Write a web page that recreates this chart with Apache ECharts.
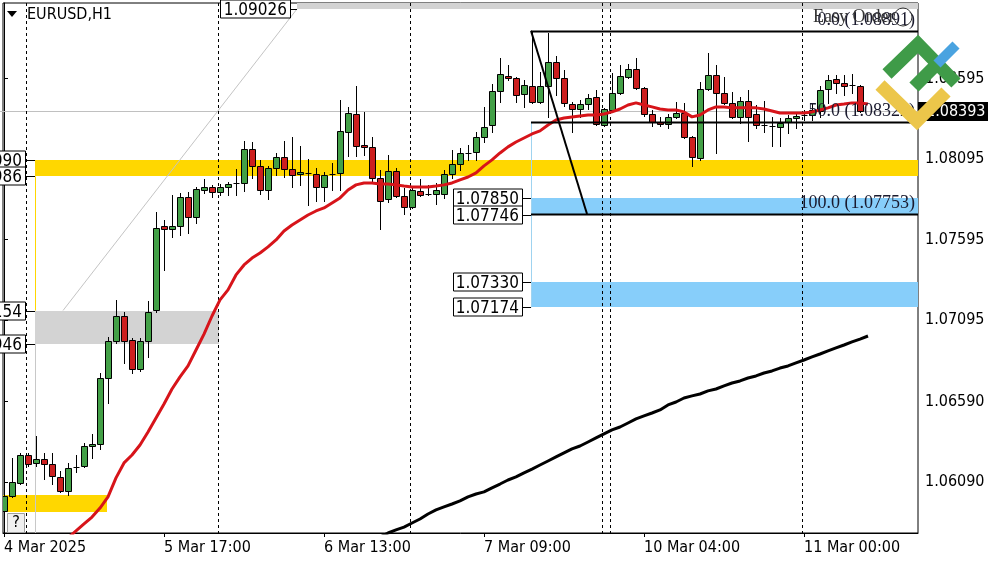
<!DOCTYPE html>
<html><head><meta charset="utf-8">
<script src="https://cdn.jsdelivr.net/npm/echarts@6.0.0/dist/echarts.min.js"></script>
<style>html,body{margin:0;padding:0;background:#fff}#c{width:1000px;height:562px}</style>
</head><body><div id="c"></div>
<script>
// ---------- data ----------
const xLabelBars = [0, 20, 40, 60, 80, 100];
const xLabelTexts = ['4 Mar 2025', '5 Mar 17:00', '6 Mar 13:00', '7 Mar 09:00', '10 Mar 04:00', '11 Mar 00:00'];
const yTickValues = [1.06090, 1.06590, 1.07095, 1.07595, 1.08095, 1.08595];

const opens = [1.05910,1.06003,1.06084,1.06257,1.06208,1.06233,1.06202,1.06121,1.06034,1.06180,
1.06189,1.06313,1.06326,1.06735,1.06965,1.07120,1.06971,1.06791,1.06965,1.07158,
1.07679,1.07661,1.07679,1.07859,1.07735,1.07902,1.07921,1.07890,1.07921,1.07946,
1.07946,1.08157,1.08052,1.07902,1.08039,1.08107,1.08033,1.08002,1.08008,1.08002,
1.07921,1.08002,1.08008,1.08263,1.08374,1.08182,1.08170,1.07977,1.07847,1.08021,
1.07865,1.07797,1.07896,1.07878,1.07878,1.07878,1.08002,1.08064,1.08132,1.08138,
1.08232,1.08306,1.08517,1.08610,1.08598,1.08498,1.08548,1.08449,1.08548,1.08697,
1.08598,1.08436,1.08405,1.08436,1.08480,1.08306,1.08399,1.08505,1.08604,1.08654,
1.08536,1.08374,1.08325,1.08312,1.08356,1.08380,1.08232,1.08101,1.08530,1.08616,
1.08505,1.08443,1.08356,1.08455,1.08374,1.08306,1.08300,1.08294,1.08325,1.08349,
1.08362,1.08368,1.08393,1.08530,1.08592,1.08567,1.08554,1.08548];
const closes = [1.06003,1.06090,1.06257,1.06202,1.06233,1.06202,1.06127,1.06034,1.06177,1.06183,
1.06313,1.06326,1.06735,1.06965,1.07120,1.06965,1.06791,1.06965,1.07145,1.07667,
1.07661,1.07679,1.07859,1.07735,1.07909,1.07921,1.07890,1.07921,1.07940,1.07948,
1.08157,1.08052,1.07902,1.08039,1.08107,1.08033,1.07996,1.08014,1.08008,1.07921,
1.07996,1.08002,1.08269,1.08380,1.08176,1.08170,1.07977,1.07834,1.08021,1.07865,
1.07797,1.07902,1.07871,1.07878,1.07902,1.08002,1.08064,1.08132,1.08132,1.08232,
1.08294,1.08517,1.08623,1.08598,1.08492,1.08554,1.08449,1.08548,1.08697,1.08598,
1.08443,1.08405,1.08436,1.08474,1.08312,1.08405,1.08505,1.08610,1.08654,1.08536,
1.08374,1.08325,1.08312,1.08356,1.08380,1.08232,1.08107,1.08530,1.08616,1.08505,
1.08443,1.08356,1.08455,1.08356,1.08306,1.08306,1.08294,1.08318,1.08349,1.08362,
1.08368,1.08399,1.08523,1.08586,1.08567,1.08548,1.08552,1.08393];
const highs = [1.06015,1.06239,1.06270,1.06270,1.06375,1.06270,1.06270,1.06158,1.06208,1.06257,
1.06332,1.06388,1.06766,1.06990,1.07220,1.07145,1.06984,1.06984,1.07213,1.07766,
1.07716,1.07871,1.07884,1.07890,1.07921,1.07971,1.07934,1.07940,1.07952,1.08033,
1.08207,1.08200,1.08089,1.08052,1.08132,1.08207,1.08232,1.08176,1.08095,1.08039,
1.08014,1.08070,1.08461,1.08418,1.08548,1.08387,1.08232,1.08027,1.08120,1.08039,
1.07915,1.07915,1.07971,1.07934,1.07946,1.08027,1.08151,1.08163,1.08182,1.08263,
1.08418,1.08561,1.08722,1.08679,1.08604,1.08586,1.08891,1.08635,1.08877,1.08734,
1.08648,1.08449,1.08461,1.08498,1.08523,1.08412,1.08629,1.08679,1.08685,1.08722,
1.08542,1.08399,1.08356,1.08374,1.08449,1.08443,1.08238,1.08573,1.08753,1.08679,
1.08604,1.08511,1.08480,1.08523,1.08430,1.08455,1.08356,1.08349,1.08368,1.08387,
1.08399,1.08443,1.08548,1.08616,1.08616,1.08616,1.08623,1.08554];
const lows = [1.05897,1.05997,1.06077,1.06189,1.06189,1.06108,1.06077,1.06028,1.06009,1.06152,
1.06183,1.06239,1.06295,1.06580,1.06953,1.06829,1.06766,1.06779,1.06866,1.07145,
1.07406,1.07611,1.07623,1.07636,1.07698,1.07884,1.07859,1.07871,1.07871,1.07871,
1.07896,1.07977,1.07878,1.07847,1.07996,1.07983,1.07921,1.07934,1.07809,1.07834,
1.07834,1.07902,1.07902,1.08114,1.08114,1.08120,1.07952,1.07661,1.07828,1.07859,
1.07754,1.07791,1.07865,1.07871,1.07816,1.07853,1.07977,1.08027,1.08089,1.08089,
1.08200,1.08263,1.08449,1.08586,1.08449,1.08418,1.08443,1.08443,1.08356,1.08492,
1.08424,1.08263,1.08356,1.08405,1.08306,1.08300,1.08393,1.08498,1.08598,1.08530,
1.08362,1.08300,1.08300,1.08287,1.08349,1.08225,1.08052,1.08089,1.08523,1.08132,
1.08436,1.08349,1.08318,1.08207,1.08287,1.08263,1.08176,1.08176,1.08256,1.08287,
1.08337,1.08337,1.08356,1.08443,1.08505,1.08492,1.08505,1.08387];

// moving averages (first value belongs to bar maFastStart / maSlowStart)
const maFastStart = 8;
const maFast = [1.05742,1.05786,1.05829,1.05872,1.05928,1.05997,1.06115,1.06208,1.06257,1.06319,
1.06400,1.06487,1.06574,1.06667,1.06742,1.06810,1.06909,1.07008,1.07120,1.07220,
1.07282,1.07375,1.07437,1.07480,1.07511,1.07549,1.07592,1.07648,1.07685,1.07716,
1.07747,1.07772,1.07791,1.07822,1.07853,1.07902,1.07934,1.07946,1.07946,1.07940,
1.07940,1.07934,1.07927,1.07921,1.07921,1.07921,1.07927,1.07934,1.07946,1.07965,
1.07983,1.08008,1.08052,1.08089,1.08132,1.08170,1.08200,1.08225,1.08250,1.08269,
1.08306,1.08337,1.08349,1.08356,1.08362,1.08368,1.08368,1.08374,1.08387,1.08405,
1.08430,1.08443,1.08430,1.08418,1.08405,1.08399,1.08399,1.08387,1.08356,1.08368,
1.08399,1.08418,1.08418,1.08412,1.08412,1.08412,1.08412,1.08405,1.08393,1.08380,
1.08380,1.08380,1.08380,1.08387,1.08399,1.08412,1.08430,1.08436,1.08443,1.08443,1.08436];
const maSlowStart = 47;
const maSlow = [1.05748,1.05773,1.05792,1.05810,1.05835,1.05860,1.05891,1.05916,1.05935,1.05953,
1.05972,1.05997,1.06015,1.06028,1.06053,1.06077,1.06102,1.06121,1.06146,1.06170,
1.06195,1.06220,1.06245,1.06270,1.06295,1.06313,1.06338,1.06363,1.06388,1.06413,
1.06431,1.06456,1.06481,1.06500,1.06518,1.06537,1.06568,1.06586,1.06611,1.06624,
1.06636,1.06655,1.06667,1.06686,1.06704,1.06717,1.06735,1.06748,1.06766,1.06779,
1.06797,1.06810,1.06829,1.06847,1.06866,1.06884,1.06903,1.06922,1.06940,1.06959,
1.06977,1.06996];

const daySeparatorBars = [3, 27, 51, 75, 76, 100];
const supplyZone = [1.08090, 1.07986];
const grayZone = [1.07154, 1.06946];
const lowZone = [1.06009, 1.05903];
const blueZoneA = [1.07850, 1.07746];
const blueZoneB = [1.07330, 1.07174];
const fibLevels = [1.08891, 1.08322, 1.07753];
const fibNames = ['0.0', '50.0', '100.0'];
const fibBars = [66, 73];
const trendBars = [7.375, 36.625];
const trendPrices = [1.07154, 1.09026];
const topLevel = 1.09026;
const lastPrice = 1.08393;
const zoneLeftBar = 3.875, grayRightBar = 26.875, lowZoneRightBar = 12.875, blueLeftBar = 65.875;

// ---------- chart ----------
const X_MIN = -0.125, X_MAX = 114.25, Y_MIN = 1.05773, Y_MAX = 1.09063;
const NARROW = "'Liberation Sans Narrow','DejaVu Sans Condensed','Arial Narrow',sans-serif";
const SERIF = "'Liberation Serif','DejaVu Serif',serif";
const GREEN = '#43a047', RED = '#cc1f1f';

const chart = echarts.init(document.getElementById('c'));
const candleData = opens.map((o, i) => [i, o, closes[i], lows[i], highs[i]]);
function renderCandle(params, api) {
  const k = api.value(0), o = api.value(1), c = api.value(2), l = api.value(3), h = api.value(4);
  const pO = api.coord([k, o]), pC = api.coord([k, c]), pH = api.coord([k, h]), pL = api.coord([k, l]);
  const x = Math.round(pO[0]);
  const top = Math.round(Math.min(pO[1], pC[1])), bot = Math.round(Math.max(pO[1], pC[1]));
  const children = [{type: 'line', shape: {x1: x + 0.5, y1: Math.round(pH[1]), x2: x + 0.5, y2: Math.round(pL[1]) + 1}, style: {stroke: '#000', lineWidth: 1}}];
  if (bot - top < 2) {
    children.push({type: 'line', shape: {x1: x - 2.5, y1: top + 0.5, x2: x + 3.5, y2: top + 0.5}, style: {stroke: '#000', lineWidth: 1}});
  } else {
    children.push({type: 'rect', shape: {x: x - 2.5, y: top + 0.5, width: 6, height: bot - top}, style: {fill: c >= o ? GREEN : RED, stroke: '#000', lineWidth: 1}});
  }
  return {type: 'group', children};
}

chart.setOption({
  animation: false,
  backgroundColor: '#fff',
  grid: {left: 3, top: 3, right: 82, bottom: 29, show: true, borderColor: '#000', borderWidth: 1},
  xAxis: {
    type: 'value', min: X_MIN, max: X_MAX, position: 'bottom',
    axisLine: {show: true, onZero: false, lineStyle: {color: '#000'}},
    axisTick: {show: true, length: 4, customValues: xLabelBars, lineStyle: {color: '#000'}},
    axisLabel: {show: true, customValues: xLabelBars, align: 'left', margin: 7, color: '#000', fontSize: 16, fontFamily: NARROW,
      formatter: v => xLabelTexts[xLabelBars.indexOf(Math.round(v))] || ''},
    splitLine: {show: false}
  },
  yAxis: {
    type: 'value', min: Y_MIN, max: Y_MAX, position: 'right',
    axisLine: {show: true, lineStyle: {color: '#000'}},
    axisTick: {show: true, length: 4, customValues: yTickValues, lineStyle: {color: '#000'}},
    axisLabel: {show: true, customValues: yTickValues, margin: 7, color: '#000', fontSize: 16, fontFamily: NARROW,
      formatter: v => v.toFixed(5)},
    splitLine: {show: false}
  },
  series: [
    {type: 'custom', name: 'EURUSD', renderItem: renderCandle, data: candleData, encode: {x: 0, y: [1, 2, 3, 4]}, z: 3, clip: true},
    {type: 'line', name: 'MA fast', data: maFast.map((v, i) => [i + maFastStart, v]), showSymbol: false, symbol: 'none',
      lineStyle: {color: '#d7141a', width: 3}, z: 4, clip: true},
    {type: 'line', name: 'MA slow', data: maSlow.map((v, i) => [i + maSlowStart, v]), showSymbol: false, symbol: 'none',
      lineStyle: {color: '#000', width: 3}, z: 4, clip: true}
  ]
});

// ---------- overlays placed through the chart's scales ----------
const px = (k, p) => chart.convertToPixel({gridIndex: 0}, [k, p]);
const G = [];
const right = px(X_MAX, Y_MIN)[0];
const topY = px(0, Y_MAX)[1], botY = px(0, Y_MIN)[1];

function zone(k1, k2, p1, p2, fill, z) {
  const a = px(k1, p1), b = px(k2, p2);
  G.push({type: 'rect', z: z || 1, silent: true, shape: {x: Math.round(a[0]), y: Math.round(a[1]), width: Math.round(b[0]) - Math.round(a[0]), height: Math.round(b[1]) - Math.round(a[1])}, style: {fill}});
}
function seg(x1, y1, x2, y2, stroke, w, z, dash) {
  G.push({type: 'line', z: z || 2, silent: true, shape: {x1, y1, x2, y2}, style: {stroke, lineWidth: w || 1, lineDash: dash || null}});
}
function priceBox(label, k, p, gap, w) {
  const a = px(k, p);
  const y = Math.round(a[1]) + 0.5, xr = Math.round(a[0]) - gap;
  seg(xr, y, Math.round(a[0]), y, '#000', 1, 11);
  G.push({type: 'rect', z: 12, silent: true, shape: {x: xr - w + 0.5, y: y - 9.5, width: w, height: 18}, style: {fill: '#fff', stroke: '#000', lineWidth: 1}});
  G.push({type: 'text', z: 13, silent: true, x: xr - 3, y: y + 1, style: {text: label, fill: '#000', font: '17px ' + NARROW, align: 'right', verticalAlign: 'middle'}});
}

// top gray band
zone(trendBars[1], X_MAX, Y_MAX, topLevel, '#d3d3d3', 1);
// zones
zone(zoneLeftBar, X_MAX, supplyZone[0], supplyZone[1], '#ffd700', 1);
zone(zoneLeftBar, grayRightBar, grayZone[0], grayZone[1], '#d3d3d3', 1);
zone(X_MIN, lowZoneRightBar, lowZone[0], lowZone[1], '#ffd700', 1);
zone(blueLeftBar, X_MAX, blueZoneA[0], blueZoneA[1], '#87cefa', 1);
zone(blueLeftBar, X_MAX, blueZoneB[0], blueZoneB[1], '#87cefa', 1);

// vertical thin guides
{
  const xv = Math.round(px(zoneLeftBar, 0)[0]) + 0.5;
  seg(xv, px(0, supplyZone[1])[1], xv, px(0, grayZone[0])[1], '#ffd700', 1, 1);
  seg(xv, px(0, grayZone[1])[1], xv, botY, '#c8c8c8', 1, 1);
  const xb = Math.round(px(blueLeftBar, 0)[0]) + 0.5;
  seg(xb, px(0, fibLevels[1])[1], xb, px(0, blueZoneB[1])[1], '#9fd3f0', 1, 1);
}
// last price line
{
  const y = Math.round(px(0, lastPrice)[1]) + 0.5;
  seg(0, y, right, y, '#c0c0c0', 1, 1);
}
// day separators
daySeparatorBars.forEach(b => {
  const x = Math.round(px(b - 0.125, 0)[0]) - 0.5;
  seg(x, topY, x, botY, '#000', 1, 2, [3, 3]);
});
// gray trendline
{
  const a = px(trendBars[0], trendPrices[0]), b = px(trendBars[1], trendPrices[1]);
  seg(a[0], a[1], b[0], b[1], '#c4c4c4', 1, 2);
}
// fibonacci
fibLevels.forEach((lv, i) => {
  const a = px(blueLeftBar, lv);
  const y = Math.round(a[1]) + 0.5;
  seg(Math.round(a[0]), y, right, y, '#000', 2, 6);
  G.push({type: 'text', z: 7, silent: true, x: right - 3, y: y - 2, style: {text: fibNames[i] + ' (' + lv.toFixed(5) + ')', fill: '#1a1a2e', font: '18px ' + SERIF, align: 'right', verticalAlign: 'bottom'}});
});
{
  const a = px(fibBars[0], fibLevels[0]), b = px(fibBars[1], fibLevels[2]);
  seg(a[0] - 1, a[1], b[0] - 1, b[1], '#000', 2, 6);
}
// price boxes
priceBox(topLevel.toFixed(5), trendBars[1], topLevel, 7, 70);
priceBox(blueZoneA[0].toFixed(5), blueLeftBar, blueZoneA[0], 9, 69);
priceBox(blueZoneA[1].toFixed(5), blueLeftBar, blueZoneA[1], 9, 69);
priceBox(blueZoneB[0].toFixed(5), blueLeftBar, blueZoneB[0], 9, 69);
priceBox(blueZoneB[1].toFixed(5), blueLeftBar, blueZoneB[1], 9, 69);
priceBox(supplyZone[0].toFixed(5), zoneLeftBar, supplyZone[0], 10, 69);
priceBox(supplyZone[1].toFixed(5), zoneLeftBar, supplyZone[1], 10, 69);
priceBox(grayZone[0].toFixed(5), zoneLeftBar, grayZone[0], 10, 69);
priceBox(grayZone[1].toFixed(5), zoneLeftBar, grayZone[1], 10, 69);

// current price tag on the axis
{
  const y = Math.round(px(0, lastPrice)[1]);
  G.push({type: 'rect', z: 14, silent: true, shape: {x: right, y: y - 9, width: 70, height: 19}, style: {fill: '#000'}});
  G.push({type: 'text', z: 15, silent: true, x: right + 8, y: y + 1, style: {text: lastPrice.toFixed(5), fill: '#fff', font: '16px ' + NARROW, verticalAlign: 'middle'}});
}
// header
G.push({type: 'polygon', z: 20, silent: true, shape: {points: [[7, 11], [17, 11], [12, 17]]}, style: {fill: '#000'}});
G.push({type: 'text', z: 20, silent: true, x: 27, y: 15, style: {text: 'EURUSD,H1', fill: '#000', font: '16px ' + NARROW, verticalAlign: 'middle'}});
// help box
G.push({type: 'rect', z: 20, silent: true, shape: {x: 7.5, y: 513.5, width: 17, height: 19}, style: {fill: '#f0f0f0', stroke: '#a0a0a0', lineWidth: 1}});
G.push({type: 'text', z: 21, silent: true, x: 16, y: 523, style: {text: '?', fill: '#000', font: '16px ' + NARROW, align: 'center', verticalAlign: 'middle'}});
// Easy Order
G.push({type: 'text', z: 20, silent: true, x: 813, y: 17, style: {text: 'Easy Order', fill: '#333', font: '18px ' + SERIF, verticalAlign: 'middle'}});
G.push({type: 'circle', z: 20, silent: true, shape: {cx: 903, cy: 17, r: 9}, style: {fill: 'none', stroke: '#333', lineWidth: 1}});
// logo
G.push({type: 'polyline', z: 30, silent: true, shape: {points: [[880, 85], [917, 121], [946, 92]]}, style: {stroke: '#ecc64a', lineWidth: 13, fill: null}});
G.push({type: 'polyline', z: 31, silent: true, shape: {points: [[887, 74], [918, 44], [956, 83]]}, style: {stroke: '#3f9b48', lineWidth: 13, fill: null}});
G.push({type: 'line', z: 31, silent: true, shape: {x1: 914, y1: 87, x2: 939, y2: 62}, style: {stroke: '#3f9b48', lineWidth: 13}});
G.push({type: 'line', z: 31, silent: true, shape: {x1: 937, y1: 64, x2: 956, y2: 45}, style: {stroke: '#4aa3e0', lineWidth: 10}});

chart.setOption({graphic: {elements: G}});
</script></body></html>
